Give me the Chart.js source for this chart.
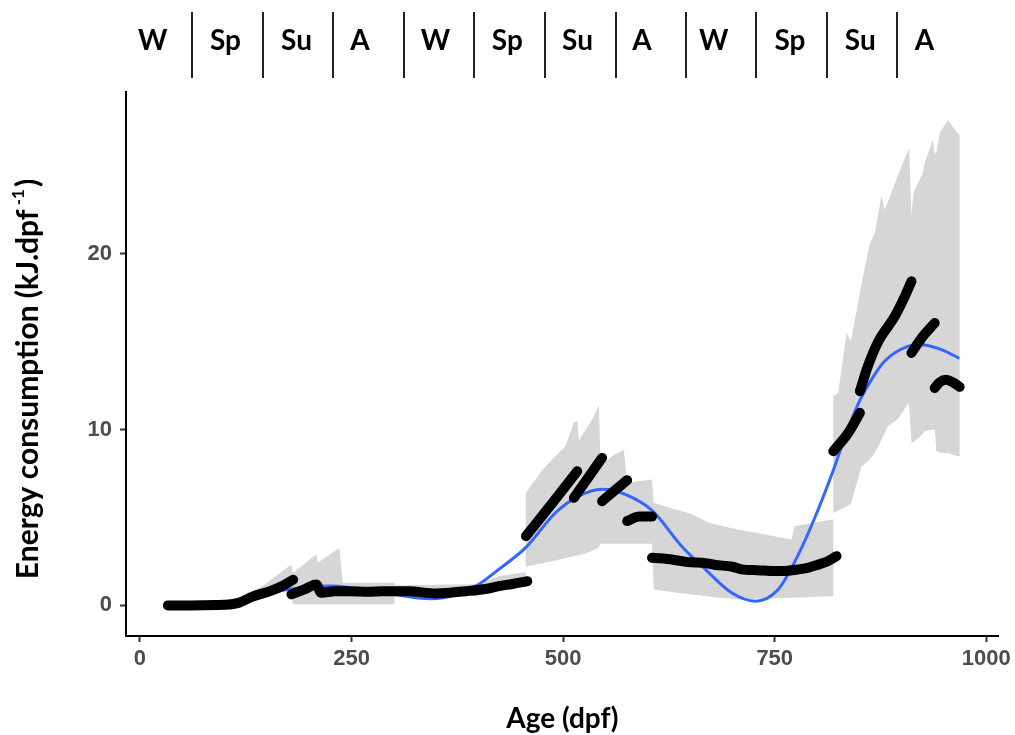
<!DOCTYPE html>
<html>
<head>
<meta charset="utf-8">
<title>Energy consumption by age</title>
<script src="https://cdn.jsdelivr.net/npm/chart.js@4.4.1/dist/chart.umd.min.js"></script>
<style>
  html, body { margin: 0; padding: 0; background: #fff; }
  #wrap { width: 1015px; height: 735px; }
</style>
</head>
<body>
<div id="wrap"><canvas id="energyChart" width="1015" height="735"></canvas></div>
<script>
// Axis ticks
const xTicks = [0, 250, 500, 750, 1000];
const yTicks = [0, 10, 20];

// Season strip along the top (positions in dpf)
const seasonLabels = ['W', 'Sp', 'Su', 'A', 'W', 'Sp', 'Su', 'A', 'W', 'Sp', 'Su', 'A'];
const seasonCentres = [15, 101, 185, 260, 349, 434, 517, 593, 678, 768, 851, 927];
const seasonBreaks = [62, 145, 228, 311.5, 395, 478.5, 562, 645, 728, 812, 895];

// Grey confidence ribbon (repeated x = a step)
const ribbonX = [33, 100, 120, 145, 178.8, 180.7, 208.3, 210.2, 235.7, 239.6, 300.6, 300.6,
  397, 424, 455.8, 455.8, 475.4, 491, 502.8, 512.7, 516.6, 518.6, 534.3, 542.2, 544.2,
  558, 571.7, 575.6, 605, 607, 630, 652, 672, 707, 731, 770, 773, 819.2, 819.2,
  825, 834.9, 840, 852.6, 862.4, 868.3, 876, 880, 884, 895.8, 907.6, 909, 911.5, 914,
  925, 927.3, 937, 939, 941, 945, 954.7, 961, 968.5];
const ribbonLow = [-0.15, -0.1, 0.05, 0.45, 0.9, 0.06, 0.06, 0.06, 0.06, 0.06, 0.06, 0.5,
  0.55, 0.85, 1.1, 2.2, 2.4, 2.55, 2.7, 2.8, 2.85, 2.85, 3.1, 3.3, 3.5,
  3.5, 3.5, 3.5, 3.5, 0.9, 0.75, 0.62, 0.5, 0.34, 0.38, 0.44, 0.44, 0.53, 5.27,
  5.4, 5.62, 5.8, 7.9, 8.3, 8.68, 9.4, 9.8, 10.2, 10.6, 11.5, 11.2, 9.24, 9.3,
  9.75, 9.9, 10.0, 10.0, 8.77, 8.7, 8.65, 8.55, 8.48];
const ribbonHigh = [0.15, 0.2, 0.5, 1.1, 2.33, 1.86, 2.9, 2.43, 3.28, 1.29, 1.29, 1.15,
  1.2, 1.66, 1.9, 6.4, 7.7, 8.5, 9.05, 10.4, 10.5, 9.4, 10.57, 11.4, 7.9,
  8.5, 8.86, 6.97, 7.16, 5.84, 5.5, 5.2, 4.7, 4.3, 4.1, 3.75, 4.5, 4.9, 11.9,
  12.1, 15.5, 15.0, 18.3, 20.6, 21.2, 23.3, 22.5, 23.0, 24.5, 25.9, 25.9, 22.1, 23.5,
  24.6, 25.2, 26.5, 25.6, 25.8, 26.9, 27.6, 27.2, 26.7];

// Blue smooth fit
const fitX = [33, 60, 80, 100, 120, 140, 170, 200, 225, 250, 290, 326, 345, 373, 397, 424,
  456, 491, 518, 546, 574, 605, 640, 668, 699, 727, 754, 778, 800, 817, 837, 851, 865,
  880, 907, 923, 947, 968];
const fitY = [0.02, 0.0, 0.05, 0.18, 0.4, 0.62, 0.88, 1.05, 1.1, 1.0, 0.72, 0.44, 0.38, 0.6, 1.1, 2.05,
  3.3, 5.27, 6.2, 6.6, 6.3, 5.4, 3.37, 2.05, 0.72, 0.24, 0.9, 2.9, 5.3, 7.4, 10.1, 11.7, 12.9,
  13.9, 14.73, 14.83, 14.55, 14.05];

// Black measured tracks, one array per track
const trackX = [
  [33, 60, 90, 105, 115, 133, 153, 170, 181],
  [179, 195, 208.3, 214, 230, 247.5, 270, 287, 318, 350, 385, 410, 424, 440, 457.7],
  [456, 486, 516.6],
  [512.7, 530, 546],
  [546, 560, 575.6],
  [575.6, 590, 605],
  [605, 630, 650, 664, 680, 700, 711, 730, 750, 765, 778, 790, 800, 812, 823],
  [819.2, 836.9, 850.6],
  [850.6, 860, 872.2, 891.9, 902, 911.5],
  [911.5, 925, 939],
  [939, 945, 952.7, 960, 968.5]
];
const trackY = [
  [0, 0, 0.02, 0.05, 0.12, 0.5, 0.8, 1.15, 1.46],
  [0.63, 0.92, 1.19, 0.72, 0.8, 0.81, 0.78, 0.81, 0.8, 0.68, 0.81, 0.95, 1.1, 1.22, 1.38],
  [3.94, 5.75, 7.63],
  [6.12, 7.3, 8.39],
  [5.93, 6.5, 7.12],
  [4.8, 5.05, 5.05],
  [2.71, 2.6, 2.45, 2.43, 2.3, 2.2, 2.05, 2.0, 1.95, 1.97, 2.05, 2.15, 2.3, 2.5, 2.8],
  [8.77, 9.81, 10.95],
  [12.18, 13.6, 15.0, 16.44, 17.4, 18.43],
  [14.36, 15.3, 16.06],
  [12.37, 12.7, 12.84, 12.7, 12.43]
];

// Build the ribbon as one closed shape: top edge forward, bottom edge back
const ribbonShape = ribbonX.map((x, i) => ({ x: x, y: ribbonHigh[i] }))
  .concat(ribbonX.map((x, i) => ({ x: x, y: ribbonLow[i] })).reverse());

const datasets = [];

trackX.forEach((xs, t) => {
  datasets.push({
    data: xs.map((x, i) => ({ x: x, y: trackY[t][i] })),
    borderColor: '#000',
    borderWidth: 10,
    borderCapStyle: 'round',
    borderJoinStyle: 'round',
    cubicInterpolationMode: 'monotone',
    pointRadius: 0,
    fill: false,
    order: 1
  });
});

datasets.push({
  data: fitX.map((x, i) => ({ x: x, y: fitY[i] })),
  borderColor: '#3366FF',
  borderWidth: 3,
  cubicInterpolationMode: 'monotone',
  pointRadius: 0,
  fill: false,
  order: 2
});

datasets.push({
  data: ribbonShape,
  borderColor: 'rgba(0,0,0,0)',
  borderWidth: 1,
  backgroundColor: '#d6d6d6',
  fill: 'shape',
  tension: 0,
  pointRadius: 0,
  order: 3
});

// Season strip and axis titles
const extraText = {
  id: 'extraText',
  afterDraw(chart) {
    const { ctx, scales: { x }, chartArea } = chart;
    ctx.save();

    // season labels + separators
    ctx.fillStyle = '#000';
    ctx.font = 'bold 28px Lato';
    ctx.textAlign = 'center';
    ctx.textBaseline = 'middle';
    seasonLabels.forEach((lab, i) => {
      ctx.fillText(lab, x.getPixelForValue(seasonCentres[i]), 41);
    });
    ctx.strokeStyle = '#222';
    ctx.lineWidth = 2;
    seasonBreaks.forEach(v => {
      const px = Math.round(x.getPixelForValue(v));
      ctx.beginPath();
      ctx.moveTo(px, 12);
      ctx.lineTo(px, 78);
      ctx.stroke();
    });

    // x title
    ctx.font = 'bold 28px Lato';
    ctx.fillText('Age (dpf)', (chartArea.left + chartArea.right) / 2, 719);

    // y title with superscript
    const main = 'Energy consumption (kJ.dpf';
    const sup = ' -1';
    const end = ')';
    ctx.translate(28, 379);
    ctx.rotate(-Math.PI / 2);
    ctx.textAlign = 'left';
    ctx.font = 'bold 30px Lato';
    const w1 = ctx.measureText(main).width;
    const w3 = ctx.measureText(end).width;
    ctx.font = 'bold 17px Lato';
    const w2 = ctx.measureText(sup).width + 2;
    let cx = -(w1 + w2 + w3) / 2;
    ctx.font = 'bold 30px Lato';
    ctx.fillText(main, cx, 0);
    cx += w1;
    ctx.font = 'bold 17px Lato';
    ctx.fillText(sup, cx, -9);
    cx += w2;
    ctx.font = 'bold 30px Lato';
    ctx.fillText(end, cx, 0);

    ctx.restore();
  }
};

const tickFont = { family: 'Liberation Sans', weight: 'bold', size: 22 };

new Chart(document.getElementById('energyChart').getContext('2d'), {
  type: 'line',
  data: { datasets: datasets },
  options: {
    responsive: false,
    animation: false,
    events: [],
    layout: { padding: { top: 92, right: 14, left: 0, bottom: 0 } },
    plugins: {
      legend: { display: false },
      tooltip: { enabled: false }
    },
    scales: {
      x: {
        type: 'linear',
        min: -16.5,
        max: 1014.5,
        afterBuildTicks: s => { s.ticks = xTicks.map(v => ({ value: v })); },
        afterFit: s => { s.height = 99; },
        border: { display: true, color: '#000', width: 2 },
        grid: { drawOnChartArea: false, drawTicks: true, tickLength: 6, tickColor: '#333', tickWidth: 2 },
        ticks: { color: '#4d4d4d', font: tickFont, padding: 4, maxRotation: 0, callback: v => String(v) }
      },
      y: {
        type: 'linear',
        min: -1.74,
        max: 29.2,
        afterBuildTicks: s => { s.ticks = yTicks.map(v => ({ value: v })); },
        afterFit: s => { s.width = 126; },
        border: { display: true, color: '#000', width: 2 },
        grid: { drawOnChartArea: false, drawTicks: true, tickLength: 6, tickColor: '#333', tickWidth: 2 },
        ticks: { color: '#4d4d4d', font: tickFont, padding: 8, callback: v => String(v) }
      }
    }
  },
  plugins: [extraText]
});
</script>
</body>
</html>
